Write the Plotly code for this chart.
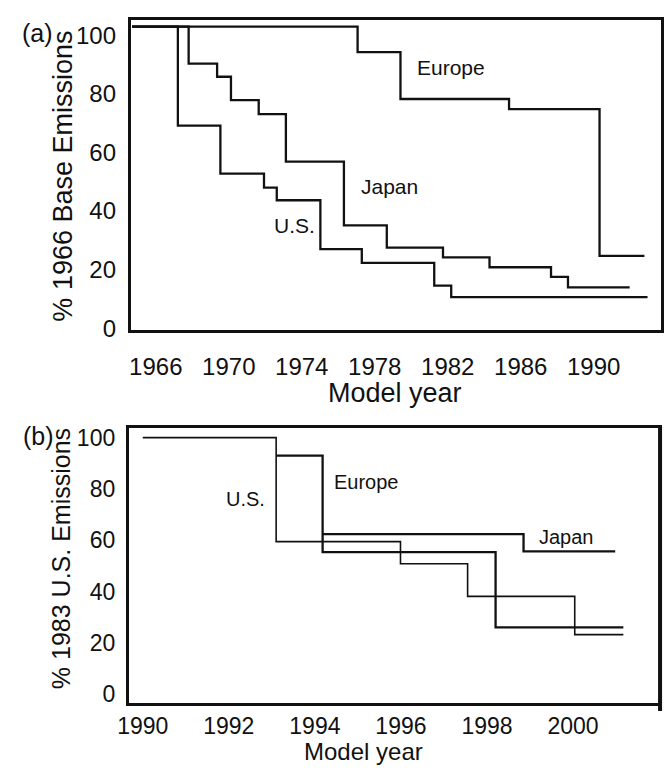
import plotly.graph_objects as go

# ---- Panel (a): model-year emission limits, % of 1966 base emissions ----
a_europe_years = [1964.7, 1977.06, 1979.41, 1985.36, 1990.32, 1992.78]
a_europe_vals = [103.0, 94.3, 78.3, 74.8, 24.7, 24.7]

a_japan_years = [1964.7, 1967.8, 1969.36, 1970.12, 1971.64, 1973.13, 1976.31,
                 1978.66, 1981.74, 1984.29, 1987.66, 1988.59, 1991.97]
a_japan_vals = [103.0, 90.4, 85.9, 77.9, 73.1, 56.9, 35.1,
                27.5, 24.2, 20.8, 17.5, 13.9, 13.9]

a_us_years = [1964.7, 1967.21, 1969.54, 1971.93, 1972.63, 1975.02, 1977.29,
              1981.26, 1982.19, 1992.95]
a_us_vals = [103.0, 69.2, 52.8, 48.0, 43.7, 27.0, 22.3, 14.5, 10.6, 10.6]

a_xticks = [1966, 1970, 1974, 1978, 1982, 1986, 1990]
a_yticks = [0, 20, 40, 60, 80, 100]

# ---- Panel (b): limits relative to 1983 U.S. emissions ----
b_us_years = [1990.0, 1993.1, 1995.99, 1997.55, 2000.04, 2001.17]
b_us_vals = [100.0, 59.5, 50.9, 38.2, 23.3, 23.3]

b_europe_years = [1993.1, 1994.18, 1998.2, 2001.17]
b_europe_vals = [93.0, 55.4, 26.1, 26.1]

b_japan_years = [1994.18, 1998.85, 2000.98]
b_japan_vals = [62.4, 55.7, 55.7]

b_xticks = [1990, 1992, 1994, 1996, 1998, 2000]
b_yticks = [0, 20, 40, 60, 80, 100]

W, H = 664, 778
FONT = "Liberation Sans, Arial, sans-serif"
INK = "#111111"


def px_x(p):
    return p / W


def px_y(p):
    return 1 - p / H


fig = go.Figure()

step_traces = [
    (a_europe_years, a_europe_vals, "x", "y", 2.3),
    (a_japan_years, a_japan_vals, "x", "y", 2.3),
    (a_us_years, a_us_vals, "x", "y", 2.3),
    (b_us_years, b_us_vals, "x2", "y2", 1.6),
    (b_europe_years, b_europe_vals, "x2", "y2", 2.3),
    (b_japan_years, b_japan_vals, "x2", "y2", 2.3),
]
for xs, ys, xa, ya, w in step_traces:
    fig.add_trace(go.Scatter(
        x=xs, y=ys, xaxis=xa, yaxis=ya, mode="lines",
        line=dict(shape="hv", color=INK, width=w),
        showlegend=False, hoverinfo="skip",
    ))

frame = dict(showline=True, mirror=True, linewidth=3, linecolor=INK,
             showgrid=False, zeroline=False, ticks="")

fig.update_layout(
    width=W, height=H,
    margin=dict(l=0, r=0, t=0, b=0),
    paper_bgcolor="white", plot_bgcolor="white",
    font=dict(family=FONT, color=INK),
    xaxis=dict(domain=[px_x(122), px_x(662)], anchor="y",
               range=[1964.63, 1993.69],
               tickvals=a_xticks, ticktext=[str(v) for v in a_xticks],
               tickfont=dict(size=24), ticklabelstandoff=14, **frame),
    yaxis=dict(domain=[px_y(333), px_y(17)], anchor="x",
               range=[-0.5, 105.4],
               tickvals=a_yticks, ticktext=[str(v) for v in a_yticks],
               tickfont=dict(size=24), ticklabelstandoff=7, **frame),
    xaxis2=dict(domain=[px_x(120), px_x(660)], anchor="y2",
                range=[1989.676, 2002.0],
                tickvals=b_xticks, ticktext=[str(v) for v in b_xticks],
                tickfont=dict(size=23), ticklabelstandoff=0, **frame),
    yaxis2=dict(domain=[px_y(714), px_y(433)], anchor="x2",
                range=[-3.44, 103.9],
                tickvals=b_yticks, ticktext=[str(v) for v in b_yticks],
                tickfont=dict(size=23), ticklabelstandoff=6, **frame),
)

# heavier right edge on the lower frame
fig.add_shape(type="line", xref="paper", yref="paper",
              x0=px_x(661), x1=px_x(661), y0=px_y(431), y1=px_y(722),
              line=dict(color=INK, width=4))

annotations = [
    # series labels
    dict(text="Europe", x=1982.2, y=89.0, xref="x", yref="y", size=21),
    dict(text="Japan", x=1978.8, y=48.5, xref="x", yref="y", size=21),
    dict(text="U.S.", x=1973.6, y=35.1, xref="x", yref="y", size=21),
    dict(text="U.S.", x=1992.39, y=76.0, xref="x2", yref="y2", size=20),
    dict(text="Europe", x=1995.21, y=82.8, xref="x2", yref="y2", size=20),
    dict(text="Japan", x=1999.84, y=61.4, xref="x2", yref="y2", size=20),
    # panel tags
    dict(text="(a)", x=px_x(27), y=px_y(31), xref="paper", yref="paper", size=25),
    dict(text="(b)", x=px_x(28), y=px_y(442), xref="paper", yref="paper", size=25),
    # axis titles
    dict(text="Model year", x=px_x(391), y=px_y(398), xref="paper", yref="paper", size=27),
    dict(text="Model year", x=px_x(359), y=px_y(763), xref="paper", yref="paper", size=24),
    dict(text="% 1966 Base Emissions", x=px_x(53), y=px_y(177), xref="paper",
         yref="paper", size=27, textangle=-90),
    dict(text="% 1983 U.S. Emissions", x=px_x(51), y=px_y(567), xref="paper",
         yref="paper", size=25, textangle=-90),
]
for a in annotations:
    fig.add_annotation(
        text=a["text"], x=a["x"], y=a["y"], xref=a["xref"], yref=a["yref"],
        showarrow=False, xanchor="center", yanchor="middle",
        textangle=a.get("textangle", 0),
        font=dict(family=FONT, size=a["size"], color=INK),
    )

fig.write_html("out.html")
